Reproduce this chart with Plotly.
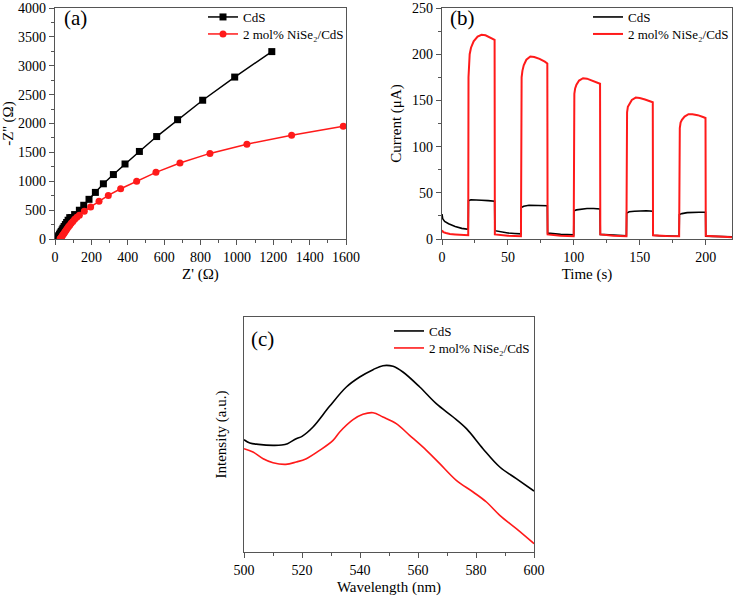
import plotly.graph_objects as go

# ---- (a) Nyquist plots ----
eis_cds_x = [8, 13, 17, 21, 25, 29, 34, 39, 44, 50, 57, 64, 72, 81, 92, 108, 134, 158, 187,
             222, 266, 321, 385, 464, 559, 674, 812, 988, 1192]
eis_cds_y = [5, 22, 40, 60, 82, 105, 130, 157, 186, 216, 250, 286, 325, 370, 372, 423, 498, 584, 687,
             807, 956, 1116, 1299, 1516, 1774, 2066, 2403, 2804, 3245]
eis_ni_x = [28, 32, 36, 40, 45, 50, 55, 61, 67, 74, 81, 89, 98, 108, 120, 134, 161, 196, 242,
            293, 361, 449, 555, 687, 852, 1055, 1301, 1585]
eis_ni_y = [5, 18, 35, 55, 77, 100, 125, 152, 180, 210, 240, 272, 305, 340, 375, 412, 481, 555, 652,
            755, 870, 1001, 1154, 1316, 1482, 1642, 1797, 1951]

# ---- (b) transient photocurrent ----
it_cds_t = [0, 0.5, 2, 5, 10, 15, 19.9, 20.1, 22, 26, 30, 35, 39.9, 40.1, 45, 50, 55, 59.9,
            60.1, 62, 66, 70, 75, 79.9, 80.1, 85, 90, 99.9, 100.1, 102, 106, 110, 115, 119.9,
            120.1, 125, 130, 139.9, 140.1, 142, 146, 150, 155, 159.9, 160.1, 165, 179.9,
            180.1, 182, 186, 190, 195, 199.9, 200.1, 205, 220]
it_cds_i = [27, 22, 19, 16.5, 13.5, 11.5, 10.5, 41.5, 42.5, 42.5, 42, 41.5, 41, 9, 7.5, 6.5, 6, 5.5,
            34, 35.5, 36.5, 36.5, 36, 36, 6.5, 5.5, 5, 4.5, 30.5, 31.5, 32.5, 33, 33, 32.5,
            5, 4.5, 4, 3.5, 28, 29.5, 30, 30.5, 30.5, 30, 4, 3.5, 3,
            26.5, 27.5, 28.5, 29, 29, 29, 3, 2.8, 2.5]
it_ni_t = [0, 1, 3, 6, 10, 15, 19.9, 20.1, 20.4, 21, 22, 24, 27, 30, 33, 37, 39.9, 40.1, 45, 50, 59.9,
           60.1, 60.4, 61, 62, 64, 67, 70, 74, 78, 79.9, 80.1, 85, 90, 99.9,
           100.1, 100.4, 101, 102, 104, 107, 110, 114, 118, 119.9, 120.1, 125, 130, 139.9,
           140.1, 140.4, 141, 142, 144, 147, 150, 154, 158, 159.9, 160.1, 165, 170, 179.9,
           180.1, 180.4, 181, 182, 184, 187, 190, 194, 198, 199.9, 200.1, 205, 210, 220]
it_ni_i = [9.5, 7.5, 6.5, 5.5, 5, 4.5, 4, 175, 190, 200, 207, 214, 219, 221, 220.5, 218, 215.5, 5, 4, 3.5, 3,
           160, 175, 182, 188, 194, 197.5, 197, 195, 192, 190, 5, 4, 3.5, 3,
           145, 157, 163, 167, 171.5, 174, 173.5, 171, 169, 168, 5, 4, 3.5, 3,
           125, 137, 143, 146, 150.5, 153, 152.5, 151, 149, 148, 4, 3.5, 3.2, 3,
           110, 120, 126, 129, 132.5, 135, 135, 134, 132, 131, 3.5, 3, 2.5, 2]

# ---- (c) PL spectra ----
pl_cds_wl = [500, 502, 505, 510, 513, 515, 518, 520, 523.8, 529.5, 535.3, 539.9, 544.5, 547.9, 551.4,
             554.8, 560.6, 566.3, 572.1, 576.7, 582.4, 588.2, 593.9, 600]
pl_cds_int = [337, 327, 323, 320, 321, 325, 340, 347, 375, 437, 495, 525, 547, 559, 557,
              540, 495, 445, 405, 370, 310, 255, 220, 183]
pl_ni_wl = [500, 503.1, 506.6, 510, 514.4, 518, 521.5, 526.1, 530.7, 533, 537.6, 541, 544.5, 547.9,
            552.5, 557.1, 562.9, 567.5, 573.2, 579, 583.6, 588.2, 593.9, 600]
pl_ni_int = [310, 300, 280, 268, 263, 270, 280, 305, 335, 360, 397, 413, 418, 405,
             385, 350, 305, 265, 215, 180, 150, 110, 70, 25]

FONT = "Liberation Serif"
AXC = "#555555"
RED = "#ff1a1a"
LBL_CDS = "CdS"
LBL_NI = "2 mol% NiSe₂/CdS"

fig = go.Figure()

fig.add_trace(go.Scatter(x=eis_cds_x, y=eis_cds_y, mode="lines+markers", name=LBL_CDS,
                         line=dict(color="black", width=1.5), showlegend=True,
                         marker=dict(symbol="square", size=7, color="black"),
                         xaxis="x", yaxis="y", legend="legend"))
fig.add_trace(go.Scatter(x=eis_ni_x, y=eis_ni_y, mode="lines+markers", name=LBL_NI,
                         line=dict(color=RED, width=1.5), showlegend=True,
                         marker=dict(symbol="circle", size=7, color=RED),
                         xaxis="x", yaxis="y", legend="legend2"))

fig.add_trace(go.Scatter(x=it_cds_t, y=it_cds_i, mode="lines", name=LBL_CDS,
                         line=dict(color="black", width=1.6), showlegend=True,
                         xaxis="x2", yaxis="y2", legend="legend3"))
fig.add_trace(go.Scatter(x=it_ni_t, y=it_ni_i, mode="lines", name=LBL_NI,
                         line=dict(color=RED, width=2), showlegend=True,
                         xaxis="x2", yaxis="y2", legend="legend4"))

fig.add_trace(go.Scatter(x=pl_cds_wl, y=pl_cds_int, mode="lines", name=LBL_CDS,
                         line=dict(color="black", width=1.6, shape="spline"), showlegend=True,
                         xaxis="x3", yaxis="y3", legend="legend5"))
fig.add_trace(go.Scatter(x=pl_ni_wl, y=pl_ni_int, mode="lines", name=LBL_NI,
                         line=dict(color=RED, width=1.6, shape="spline"), showlegend=True,
                         xaxis="x3", yaxis="y3", legend="legend6"))


def ax(**kw):
    base = dict(showline=True, linecolor=AXC, linewidth=1.2, mirror=True, automargin=False,
                ticks="outside", ticklen=5, tickcolor=AXC, showgrid=False, zeroline=False,
                tickfont=dict(family=FONT, size=14, color="black"),
                title_font=dict(family=FONT, size=15, color="black"))
    base.update(kw)
    return base


W, H = 734, 597
fx = lambda p: p / W
fy = lambda p: 1 - p / H

leg = dict(bgcolor="rgba(0,0,0,0)", borderwidth=0, xanchor="left", yanchor="middle",
           font=dict(family=FONT, size=13, color="black"), itemwidth=30, tracegroupgap=0)

fig.update_layout(
    width=W, height=H,
    showlegend=True,
    margin=dict(l=0, r=0, t=0, b=0),
    paper_bgcolor="white", plot_bgcolor="white",
    font=dict(family=FONT, color="black"),
    xaxis=ax(domain=[fx(55), fx(346)], range=[0, 1600], dtick=200, anchor="y",
             minor=dict(dtick=100, ticks="outside", ticklen=3, tickcolor=AXC),
             title=dict(text="Z' (Ω)", standoff=4)),
    yaxis=ax(domain=[fy(239), fy(8)], range=[0, 4000], dtick=500, anchor="x",
             minor=dict(dtick=250, ticks="outside", ticklen=3, tickcolor=AXC),
             title=dict(text="-Z'' (Ω)", standoff=6)),
    xaxis2=ax(domain=[fx(442), fx(732)], range=[0, 220], dtick=50, anchor="y2",
              minor=dict(dtick=25, ticks="outside", ticklen=3, tickcolor=AXC),
              title=dict(text="Time (s)", standoff=4)),
    yaxis2=ax(domain=[fy(239), fy(8)], range=[0, 250], dtick=50, anchor="x2",
              minor=dict(dtick=25, ticks="outside", ticklen=3, tickcolor=AXC),
              title=dict(text="Current (μA)", standoff=6)),
    xaxis3=ax(domain=[fx(244), fx(534)], range=[500, 600], dtick=20, anchor="y3",
              minor=dict(dtick=10, ticks="outside", ticklen=3, tickcolor=AXC),
              title=dict(text="Wavelength (nm)", standoff=4)),
    yaxis3=ax(domain=[fy(552), fy(317)], range=[0, 705], anchor="x3",
              ticks="", showticklabels=False,
              title=dict(text="Intensity (a.u.)", standoff=12)),
    legend=dict(leg, x=fx(203), y=fy(17)),
    legend2=dict(leg, x=fx(203), y=fy(34)),
    legend3=dict(leg, x=fx(588), y=fy(17)),
    legend4=dict(leg, x=fx(588), y=fy(34)),
    legend5=dict(leg, x=fx(389), y=fy(331)),
    legend6=dict(leg, x=fx(389), y=fy(348)),
    annotations=[
        dict(text="(a)", x=fx(62), y=fy(4), xref="paper", yref="paper", showarrow=False,
             xanchor="left", yanchor="top", font=dict(family=FONT, size=21, color="black")),
        dict(text="(b)", x=fx(448), y=fy(4), xref="paper", yref="paper", showarrow=False,
             xanchor="left", yanchor="top", font=dict(family=FONT, size=21, color="black")),
        dict(text="(c)", x=fx(249), y=fy(325), xref="paper", yref="paper", showarrow=False,
             xanchor="left", yanchor="top", font=dict(family=FONT, size=21, color="black")),
    ],
)

# drop the default 8px page margin so the figure sits at the window's corner
fig.write_html("out.html", config={"displayModeBar": False},
               post_script="document.body.style.margin='0';")
